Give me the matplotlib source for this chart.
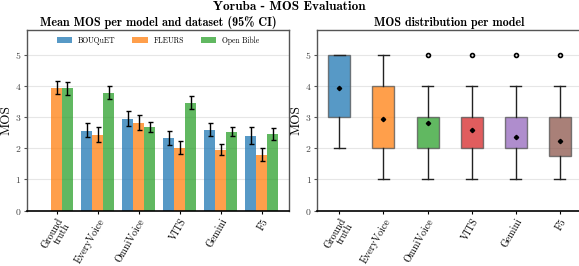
import numpy as np
import matplotlib
matplotlib.use('Agg')
import matplotlib.pyplot as plt

plt.rcParams['font.family'] = ['cmr10', 'DejaVu Serif']
plt.rcParams['axes.formatter.use_mathtext'] = True
plt.rcParams['mathtext.fontset'] = 'cm'

models = ['Ground\ntruth', 'EveryVoice', 'OmniVoice', 'VITS', 'Gemini', 'F5']
datasets = ['BOUQuET', 'FLEURS', 'Open Bible']

# mean MOS per dataset (nan = no data)
mean_bouquet = [np.nan, 2.57, 2.95, 2.33, 2.60, 2.40]
mean_fleurs = [3.95, 2.43, 2.82, 2.01, 1.95, 1.79]
mean_bible = [3.93, 3.79, 2.69, 3.46, 2.53, 2.46]
# 95% CI bounds
lo_bouquet = [np.nan, 2.35, 2.72, 2.10, 2.40, 2.13]
hi_bouquet = [np.nan, 2.80, 3.20, 2.56, 2.80, 2.68]
lo_fleurs = [3.75, 2.20, 2.58, 1.80, 1.77, 1.60]
hi_fleurs = [4.15, 2.67, 3.07, 2.22, 2.13, 2.00]
lo_bible = [3.72, 3.58, 2.52, 3.25, 2.40, 2.25]
hi_bible = [4.14, 4.00, 2.86, 3.67, 2.67, 2.64]

# box stats per model
box_q1 = [3, 2, 2, 2, 2, 1.75]
box_q3 = [5, 4, 3, 3, 3, 3]
box_med = [4, 3, 3, 3, 2, 2]
whisk_lo = [2, 1, 1, 1, 1, 1]
whisk_hi = [5, 5, 4, 4, 4, 4]
box_mean = [3.93, 2.93, 2.81, 2.59, 2.35, 2.22]
outliers = [[], [], [5], [5], [5], [5]]

bar_colors = ['#1f77b4', '#ff7f0e', '#2ca02c']
box_colors = ['#1f77b4', '#ff7f0e', '#2ca02c', '#d62728', '#9467bd', '#8c564b']

fig = plt.figure(figsize=(5.79, 2.66), dpi=100)
ax1 = fig.add_axes([0.0466, 0.2086, 0.4525, 0.6786])
ax2 = fig.add_axes([0.548, 0.2086, 0.457, 0.6786])

fig.suptitle('Yoruba - MOS Evaluation', fontfamily='cmb10', fontsize=9.5, y=0.995)

def style(ax):
    ax.set_ylim(0, 5.8)
    ax.set_yticks([0, 1, 2, 3, 4, 5])
    ax.yaxis.grid(True, color='#e6e6e6', linewidth=0.8)
    ax.set_axisbelow(True)
    for s in ['left', 'top', 'right']:
        ax.spines[s].set_color('#555555')
        ax.spines[s].set_linewidth(1.0)
    ax.spines['bottom'].set_color('black')
    ax.spines['bottom'].set_linewidth(1.2)
    ax.tick_params(axis='y', labelsize=7, length=2, colors='#555555', labelcolor='#444444', pad=2)
    ax.tick_params(axis='x', labelsize=7.2, length=2.5, width=0.8, pad=2)
    ax.set_ylabel('MOS', fontsize=9.5, labelpad=2)
    ax.set_xticks(range(len(models)))
    ax.set_xticklabels(models, rotation=60, ha='right', rotation_mode='anchor', linespacing=0.85)

# left: grouped bars with CI
x = np.arange(len(models))
w = 0.8 / 3
means = [mean_bouquet, mean_fleurs, mean_bible]
los = [lo_bouquet, lo_fleurs, lo_bible]
his = [hi_bouquet, hi_fleurs, hi_bible]
for i, name in enumerate(datasets):
    xs = x + (i - 1) * w
    m = np.array(means[i])
    ax1.bar(xs, m, w, color=bar_colors[i], alpha=0.75, label=name, linewidth=0)
    err = np.vstack([m - np.array(los[i]), np.array(his[i]) - m])
    ax1.errorbar(xs, m, yerr=err, fmt='none', ecolor='black', elinewidth=1.0,
                 capsize=1.8, capthick=1.0)
style(ax1)
ax1.set_xlim(-0.72, 5.66)
ax1.set_title('Mean MOS per model and dataset (95% CI)', fontfamily='cmb10', fontsize=8.7, pad=3)
ax1.legend(loc='upper center', ncol=3, frameon=False, fontsize=5.5,
           handlelength=2.0, handleheight=0.8, columnspacing=2.2, borderaxespad=0.4)

# right: box plots
stats = []
for i in range(len(models)):
    stats.append(dict(q1=box_q1[i], q3=box_q3[i], med=box_med[i], whislo=whisk_lo[i],
                      whishi=whisk_hi[i], mean=box_mean[i], fliers=outliers[i]))
bp = ax2.bxp(stats, positions=x, widths=0.5, patch_artist=True, showmeans=True,
             boxprops=dict(edgecolor='#555555', linewidth=1.0),
             whiskerprops=dict(color='#222222', linewidth=1.0),
             capprops=dict(color='#222222', linewidth=1.0),
             medianprops=dict(linewidth=0),
             meanprops=dict(marker='D', markerfacecolor='black', markeredgecolor='black', markersize=2.2),
             flierprops=dict(marker='o', markerfacecolor='none', markeredgecolor='black',
                             markeredgewidth=1.2, markersize=2.8))
for patch, c in zip(bp['boxes'], box_colors):
    patch.set_facecolor(c)
    patch.set_alpha(0.75)
    patch.set_edgecolor('#555555')
style(ax2)
ax2.set_xlim(-0.5, 5.5)
ax2.set_title('MOS distribution per model', fontfamily='cmb10', fontsize=8.7, pad=3)

fig.savefig('out.png', dpi=100)
